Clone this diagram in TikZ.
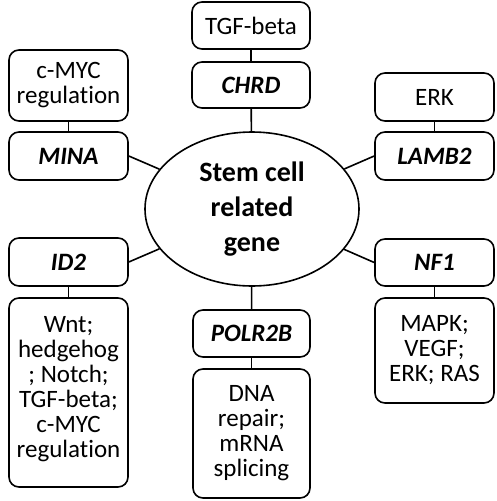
\documentclass[tikz,border=0pt]{standalone}
\usepackage{fontspec}
\setmainfont{Carlito}[Ligatures=NoCommon]
\usetikzlibrary{shapes.geometric}
\tikzset{
  box/.style={draw, line width=1.6pt, rounded corners=10pt, align=center, inner sep=0pt,
    font=\fontsize{25}{25}\selectfont},
  gene/.style={box, font=\fontsize{25}{25}\selectfont\bfseries\itshape},
  link/.style={line width=1.6pt}
}
\begin{document}
\begin{tikzpicture}[x=1pt,y=-1pt]
\useasboundingbox (0,0) rectangle (496,501);
\node[ellipse, draw, line width=1.6pt, minimum width=214pt, minimum height=154pt, inner sep=0pt,
  align=center, font=\fontsize{28}{35}\selectfont\bfseries] (c) at (252,209) {Stem cell\\related\\gene};
\node[box, minimum width=118pt, minimum height=47pt] (tgf) at (251,25.5) {TGF-beta};
\node[gene, minimum width=118pt, minimum height=46pt] (chrd) at (251,85) {CHRD};
\node[box, minimum width=119pt, minimum height=71pt] (cmyc) at (68.5,85.5) {c-MYC\\regulation};
\node[gene, minimum width=119pt, minimum height=48pt] (mina) at (68.5,156) {MINA};
\node[box, minimum width=119pt, minimum height=48pt] (erk) at (434.5,97) {ERK};
\node[gene, minimum width=119pt, minimum height=48pt] (lamb) at (434.5,156) {LAMB2};
\node[gene, minimum width=119pt, minimum height=48pt] (id2) at (68.5,262) {ID2};
\node[box, minimum width=119pt, minimum height=189pt] (wnt) at (68.5,392.5) {Wnt;\\hedgehog\\; Notch;\\TGF-beta;\\c-MYC\\regulation\\[-14pt]};
\node[gene, minimum width=117pt, minimum height=47pt] (polr) at (251.5,333.5) {POLR2B};
\node[box, minimum width=117pt, minimum height=129pt] (dna) at (251.5,433.5) {DNA\\repair;\\mRNA\\splicing};
\node[gene, minimum width=119pt, minimum height=47pt] (nf1) at (434.5,262.5) {NF1};
\node[box, minimum width=119pt, minimum height=105pt] (mapk) at (434.5,350.5) {MAPK;\\VEGF;\\ERK; RAS};
\draw[link] (tgf) -- (chrd);
\draw[link] (chrd) -- (c);
\draw[link] (cmyc) -- (mina);
\draw[link] (mina.east) -- (c);
\draw[link] (erk) -- (lamb);
\draw[link] (lamb.west) -- (c);
\draw[link] (id2) -- (wnt);
\draw[link] (id2.east) -- (c);
\draw[link] (polr) -- (dna);
\draw[link] (polr) -- (c);
\draw[link] (nf1) -- (mapk);
\draw[link] (nf1.west) -- (c);
\end{tikzpicture}
\end{document}
